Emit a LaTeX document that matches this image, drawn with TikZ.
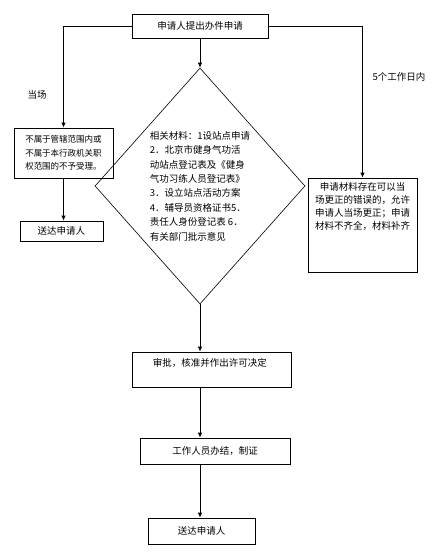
\documentclass[tikz,border=0pt]{standalone}
\usepackage{fontspec}
\setmainfont{Noto Sans CJK SC}
\usepackage{tikz}
\usetikzlibrary{arrows.meta, shapes.geometric, positioning}

\tikzset{
	box/.style={draw, line width=0.8pt, inner sep=0pt, font=\fontsize{9.5}{13}\selectfont},
	txt/.style={inner sep=0pt, font=\fontsize{9.5}{13}\selectfont},
	flow/.style={line width=0.8pt, -{Latex[length=5pt,width=4.5pt]}}
}

\begin{document}
\begin{tikzpicture}[x=1pt, y=-1pt]
		
		\useasboundingbox (0,0) rectangle (443,558);
		
		% top request box
		\node[box, minimum width=136pt, minimum height=24pt] (top) at (200,26) {申请人提出办件申请};
		
		% left branch
		\node[box, minimum width=99pt, minimum height=50pt, align=left, font=\fontsize{8.5}{13.5}\selectfont] (nobox) at (63.5,153)
		{不属于管辖范围内或\\不属于本行政机关职\\权范围的不予受理。};
		\node[box, minimum width=83pt, minimum height=20pt] (send1) at (61.5,231) {送达申请人};
		
		% materials diamond
		\node[diamond, draw, line width=0.6pt, inner sep=0pt, minimum width=210pt, minimum height=236pt, align=left, font=\fontsize{9.5}{14.4}\selectfont] (mat) at (200,186)
		{相关材料：1设站点申请\\2．北京市健身气功活\\动站点登记表及《健身\\气功习练人员登记表》\\3．设立站点活动方案\\4．辅导员资格证书5．\\责任人身份登记表 6．\\有关部门批示意见};
		
		% right branch
		\node[box, minimum width=109pt, minimum height=94pt] (fix) at (362.5,225) {};
		\node[txt, align=center, anchor=north] (fixtxt) at ([yshift=-5pt]fix.north)
		{申请材料存在可以当\\场更正的错误的，允许\\申请人当场更正；申请\\材料不齐全，材料补齐};
		
		% lower chain
		\node[box, minimum width=159pt, minimum height=35pt] (ap) at (211.5,369.5) {};
		\node[txt, anchor=west] (aptxt) at ([xshift=21pt,yshift=-11pt]ap.north west) {审批，核准并作出许可决定};
		\node[box, minimum width=150pt, minimum height=26pt] (done) at (215,451) {工作人员办结，制证};
		\node[box, minimum width=107pt, minimum height=26pt] (send2) at (201.5,531) {送达申请人};
		
		% branch labels
		\node[txt] (now) at (37,95) {当场};
		\node[txt] (days) at (399,77) {5个工作日内};
		
		\draw[flow] (top.west) -| (nobox.north);
		\draw[flow] (top.east) -| (fix.north);
		\draw[flow] (top.south) -- (mat.north);
		\draw[flow] (nobox.south) -- (nobox.south |- send1.north);
		\draw[flow] (mat.south) -- (mat.south |- ap.north);
		\draw[flow] (ap.south -| mat.south) -- (done.north -| mat.south);
		\draw[flow] (done.south -| mat.south) -- (send2.north -| mat.south);
	\end{tikzpicture}
\end{document}
